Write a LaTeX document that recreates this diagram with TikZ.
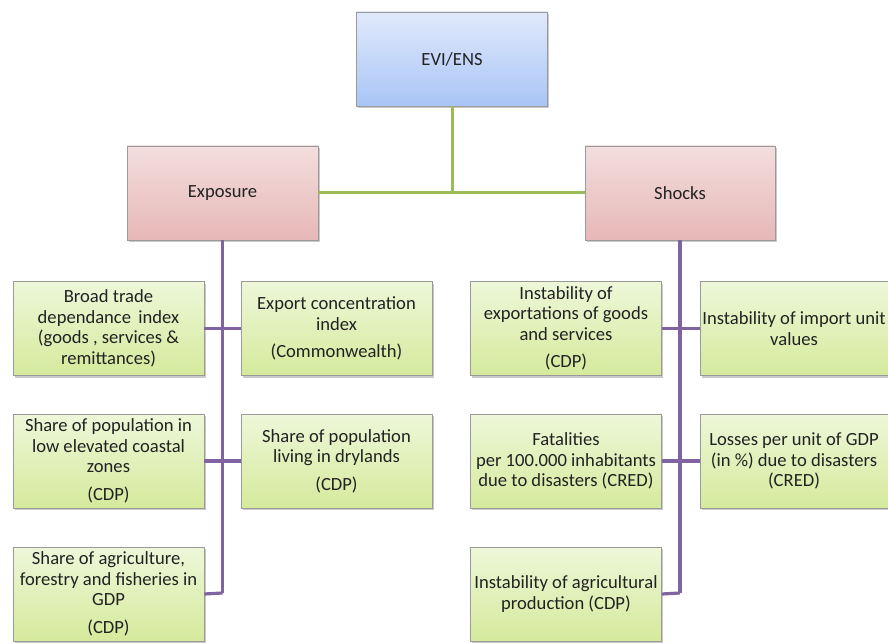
\documentclass[tikz,border=0pt]{standalone}
\usepackage{fontspec}
\setmainfont{Carlito}
\usetikzlibrary{shadows}
\definecolor{txt}{HTML}{222222}
\definecolor{edge}{HTML}{9A9A9A}
\definecolor{linkgreen}{HTML}{9BBB59}
\definecolor{linkpurple}{HTML}{8064A2}
\definecolor{blueTop}{HTML}{E0E9FB}
\definecolor{blueBot}{HTML}{A9C5F6}
\definecolor{pinkTop}{HTML}{F3DEDD}
\definecolor{pinkBot}{HTML}{E6B8B7}
\definecolor{greenTop}{HTML}{EEF7D9}
\definecolor{greenBot}{HTML}{D5EA9C}
\tikzset{
  box/.style={draw=edge, line width=0.8pt, rectangle, inner sep=0pt,
    minimum width=191pt, minimum height=94pt, align=center,
    text=txt, font=\fontsize{18.6}{20.5}\selectfont,
    drop shadow={shadow xshift=1.5pt, shadow yshift=-2pt, opacity=0.35, fill=black!60}},
  topbox/.style={box, top color=blueTop, bottom color=blueBot},
  midbox/.style={box, top color=pinkTop, bottom color=pinkBot},
  leafbox/.style={box, top color=greenTop, bottom color=greenBot},
  greenlink/.style={draw=linkgreen, line width=3pt},
  purplelink/.style={draw=linkpurple, line width=3.2pt},
}
\begin{document}
\begin{tikzpicture}[x=1pt, y=-1pt]
\useasboundingbox (0,0) rectangle (888,644);
\clip (0,0) rectangle (888,644);

% junction points of the trunks
\coordinate (hubL) at (222.5,593);
\coordinate (hubR) at (680,593);
\coordinate (topHub) at (452,193);

% top level
\node[topbox] (evi) at (452,59) {EVI/ENS};
\node[midbox] (exp) at (222.5,193) {Exposure};
\node[midbox, minimum width=190pt] (shk) at (680,193) {Shocks};

% exposure indicators
\node[leafbox] (b1) at (108.5,328.5) {Broad trade\\dependance\, index\\(goods , services \&\\remittances)};
\node[leafbox] (b2) at (336.5,328.5) {Export concentration\\index\\[7pt](Commonwealth)};
\node[leafbox] (b3) at (108.5,461) {Share of population in\\low elevated coastal\\zones\\[7pt](CDP)};
\node[leafbox] (b4) at (336.5,461) {Share of population\\living in drylands\\[7pt](CDP)};
\node[leafbox] (b5) at (108.5,594) {Share of agriculture,\\forestry and fisheries in\\GDP\\[7pt](CDP)};

% shock indicators
\node[leafbox] (r1) at (566,328.5) {Instability of\\exportations of goods\\and services\\[7pt](CDP)};
\node[leafbox, minimum width=188pt] (r2) at (794,328.5) {Instability of import unit\\values};
\node[leafbox] (r3) at (566,461) {Fatalities\\per 100.000 inhabitants\\due to disasters (CRED)};
\node[leafbox, minimum width=188pt] (r4) at (794,461) {Losses per unit of GDP\\(in \%) due to disasters\\(CRED)};
\node[leafbox] (r5) at (566,594) {Instability of agricultural\\production (CDP)};

% green links
\draw[greenlink] (evi.south) -- (topHub);
\draw[greenlink] (exp.east) -- (shk.west);

% purple trunks
\draw[purplelink] (exp.south) -- (hubL);
\draw[purplelink] (shk.south) -- (hubR);

% purple branches
\draw[purplelink] (b1.east) -- (b2.west);
\draw[purplelink] (b3.east) -- (b4.west);
\draw[purplelink] (b5.east) -- (hubL);
\draw[purplelink] (r1.east) -- (r2.west);
\draw[purplelink] (r3.east) -- (r4.west);
\draw[purplelink] (r5.east) -- (hubR);
\end{tikzpicture}
\end{document}
